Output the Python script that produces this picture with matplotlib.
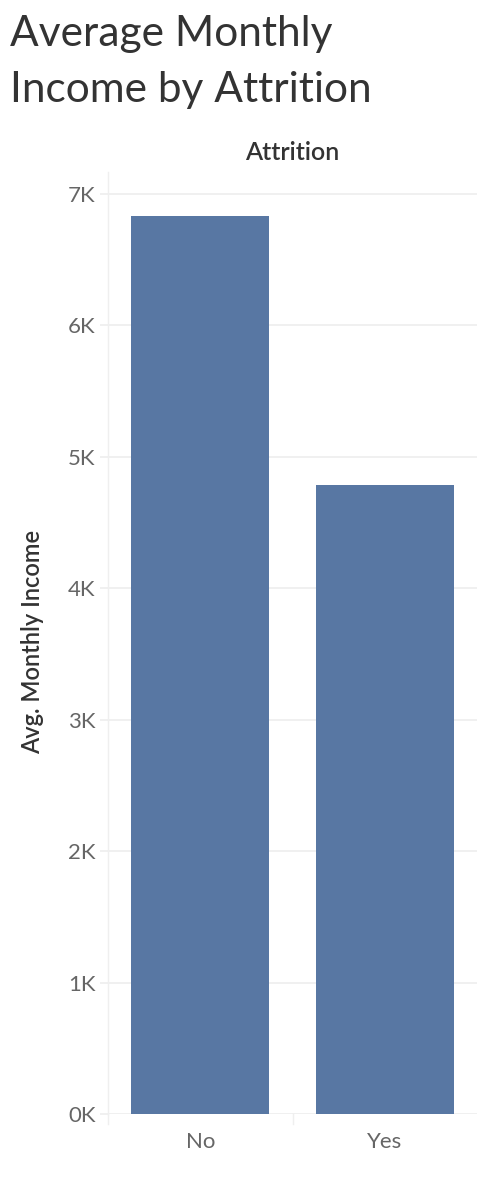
import matplotlib.pyplot as plt
from matplotlib.ticker import FuncFormatter

# data
attrition = ['No', 'Yes']
avg_income = [6832.7, 4787.1]
yticks = [0, 1000, 2000, 3000, 4000, 5000, 6000, 7000]

W, H = 482, 1178
fig = plt.figure(figsize=(W / 100, H / 100), dpi=100)
plt.rcParams['font.family'] = ['Lato', 'DejaVu Sans']

# axes box in pixels: left 108, right 477, top 172, bottom 1114
left, right, top, bottom = 108, 477, 172, 1114
ax = fig.add_axes([left / W, 1 - bottom / H, (right - left) / W, (bottom - top) / H])

grid = '#efefef'
ax.bar(range(len(attrition)), avg_income, width=0.75, color='#5877a3', zorder=3)
ax.set_xlim(-0.5, len(attrition) - 0.5)
ax.set_ylim(0, 7000 * (bottom - top) / (bottom - 194))

ax.set_yticks(yticks)
ax.yaxis.set_major_formatter(FuncFormatter(lambda v, p: f'{int(v / 1000)}K'))
ax.set_xticks(range(len(attrition)))
ax.set_xticklabels(attrition)
ax.tick_params(axis='y', length=6, color=grid, width=1.3, labelsize=16,
               labelcolor='#666666', pad=3)
ax.tick_params(axis='x', length=0, labelsize=16, labelcolor='#666666', pad=13)
ax.grid(axis='y', color=grid, linewidth=1.3, zorder=0)

for s in ['top', 'right', 'bottom']:
    ax.spines[s].set_visible(False)
ax.spines['left'].set_color(grid)
ax.spines['left'].set_linewidth(1.0)

# category divider ticks below the baseline (tableau style)
ext = 10 / (bottom - top)
for xv in [-0.5, 0.5]:
    ax.plot([xv, xv], [0, -ext], transform=ax.get_xaxis_transform(),
            color=grid, lw=1.0, clip_on=False)

fig.text(33 / W, 1 - 642 / H, 'Avg. Monthly Income', rotation=90, ha='center',
         va='center', fontsize=17, color='#333333', fontweight='semibold')

fig.text(292 / W, 1 - 153 / H, 'Attrition', ha='center', va='center',
         fontsize=18, color='#333333', fontweight='semibold')

fig.text(10 / W, 1 - 46 / H, 'Average Monthly', ha='left', va='baseline',
         fontsize=30.5, color='#333333')
fig.text(10 / W, 1 - 102 / H, 'Income by Attrition', ha='left', va='baseline',
         fontsize=30.5, color='#333333')

fig.savefig('out.png', dpi=100)
